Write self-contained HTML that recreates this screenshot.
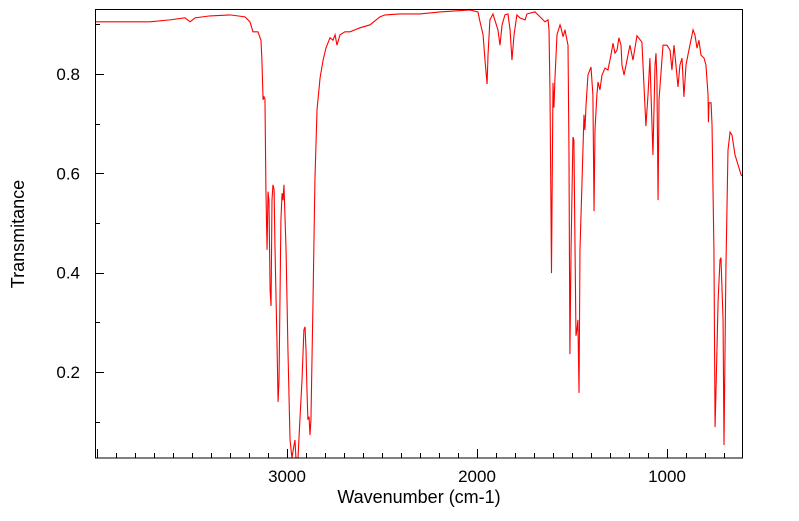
<!DOCTYPE html>
<html><head><meta charset="utf-8"><style>
body{margin:0;background:#fff;}
svg text{font-family:"Liberation Sans",sans-serif;fill:#000;}
</style></head><body>
<svg id="chart" width="799" height="516" xmlns="http://www.w3.org/2000/svg">
<rect width="799" height="516" fill="#fff"/>
<g id="ticks"></g>
<path id="spectrum" fill="none" stroke="#ff0000" stroke-width="1.1"/>
<rect x="95.5" y="9.5" width="647" height="448.5" fill="none" stroke="#000" stroke-width="1"/>
<text x="419" y="503" font-size="18" text-anchor="middle">Wavenumber (cm-1)</text>
<text transform="translate(24,234) rotate(-90)" font-size="18" text-anchor="middle">Transmitance</text>
</svg>
<script>
const wavenumbers=[4010,3721,3616,3537,3510,3484,3405,3300,3221,3195,3179,3153,3137,3132,3126,3121,3116,3111,3105,3100,3095,3089,3084,3079,3074,3068,3063,3053,3047,3042,3032,3026,3021,3016,3005,2995,2984,2974,2963,2958,2953,2942,2932,2921,2911,2905,2900,2895,2890,2884,2879,2874,2863,2853,2842,2826,2810,2795,2774,2758,2747,2737,2721,2695,2668,2642,2616,2563,2511,2484,2405,2300,2195,2037,1995,1984,1968,1958,1947,1942,1932,1916,1890,1879,1868,1853,1837,1826,1816,1805,1790,1774,1747,1737,1695,1642,1626,1621,1616,1611,1608,1605,1600,1595,1590,1579,1563,1558,1547,1537,1532,1521,1516,1511,1505,1495,1490,1484,1479,1474,1469,1463,1458,1447,1437,1432,1426,1416,1400,1390,1384,1379,1369,1363,1353,1342,1326,1311,1295,1284,1274,1263,1253,1242,1237,1226,1195,1179,1158,1132,1111,1100,1090,1079,1074,1063,1058,1053,1047,1042,1021,1000,984,974,963,953,942,932,921,911,900,890,874,863,853,842,832,821,805,795,784,782,779,768,763,753,747,742,731,721,716,705,700,690,679,668,658,642,626,610,605];
const transmittance=[0.905,0.905,0.909,0.913,0.905,0.913,0.917,0.919,0.915,0.905,0.885,0.885,0.868,0.828,0.748,0.754,0.750,0.567,0.446,0.563,0.546,0.365,0.333,0.546,0.577,0.567,0.446,0.265,0.140,0.184,0.506,0.560,0.546,0.577,0.446,0.244,0.063,0.027,0.053,0.063,0.027,0.027,0.104,0.184,0.285,0.291,0.244,0.164,0.104,0.110,0.073,0.104,0.345,0.587,0.728,0.792,0.828,0.852,0.873,0.868,0.879,0.858,0.879,0.885,0.885,0.889,0.893,0.899,0.915,0.919,0.921,0.921,0.925,0.929,0.925,0.905,0.879,0.828,0.780,0.838,0.909,0.921,0.889,0.858,0.899,0.919,0.921,0.889,0.828,0.879,0.919,0.913,0.909,0.921,0.925,0.905,0.909,0.889,0.768,0.546,0.399,0.546,0.782,0.732,0.788,0.879,0.899,0.893,0.875,0.889,0.879,0.858,0.647,0.236,0.446,0.673,0.667,0.446,0.273,0.285,0.305,0.158,0.446,0.587,0.718,0.687,0.738,0.798,0.814,0.758,0.524,0.687,0.758,0.784,0.768,0.798,0.812,0.808,0.838,0.862,0.842,0.848,0.873,0.858,0.818,0.798,0.858,0.828,0.877,0.864,0.695,0.758,0.832,0.697,0.637,0.818,0.842,0.788,0.546,0.748,0.858,0.858,0.848,0.808,0.858,0.818,0.774,0.818,0.832,0.754,0.818,0.838,0.868,0.889,0.879,0.852,0.868,0.838,0.832,0.818,0.758,0.703,0.742,0.742,0.697,0.446,0.089,0.164,0.345,0.426,0.430,0.305,0.053,0.406,0.647,0.683,0.677,0.637,0.617,0.597,0.595];
const xTickLabels=[3000,2000,1000];
const yTickLabels=[0.2,0.4,0.6,0.8];

const X=w=>287+(3000-w)*0.19;
const Y=t=>74+(0.8-t)*496.7;
const ns="http://www.w3.org/2000/svg";
const tg=document.getElementById('ticks');
function line(x1,y1,x2,y2){const l=document.createElementNS(ns,'line');l.setAttribute('x1',x1);l.setAttribute('y1',y1);l.setAttribute('x2',x2);l.setAttribute('y2',y2);l.setAttribute('stroke','#000');tg.appendChild(l);return l;}
function text(x,y,s,anchor){const t=document.createElementNS(ns,'text');t.setAttribute('x',x);t.setAttribute('y',y);t.setAttribute('font-size','17');t.setAttribute('text-anchor',anchor);t.textContent=s;tg.appendChild(t);return t;}
for(let w=4000;w>=700;w-=100){const x=Math.round(X(w))+0.5;const major=w%1000===0;
 const l=line(x,458,x,458-(major?9:5));
 
 }
xTickLabels.forEach(v=>{const t=text(X(v),482,String(v),'middle');
 
 });
for(let i=1;i<=9;i++){const v=i/10;const y=Math.round(Y(v))+0.5;const major=i%2===0;
 const l=line(95,y,95+(major?9:5),y);
 
 }
yTickLabels.forEach(v=>{const t=text(80,Y(v)+6,v.toFixed(1),'end');
 
 });
let d='';
wavenumbers.forEach((w,i)=>{d+=(i?'L':'M')+X(w).toFixed(2)+','+Y(transmittance[i]).toFixed(2);});
document.getElementById('spectrum').setAttribute('d',d);
</script>
</body></html>
